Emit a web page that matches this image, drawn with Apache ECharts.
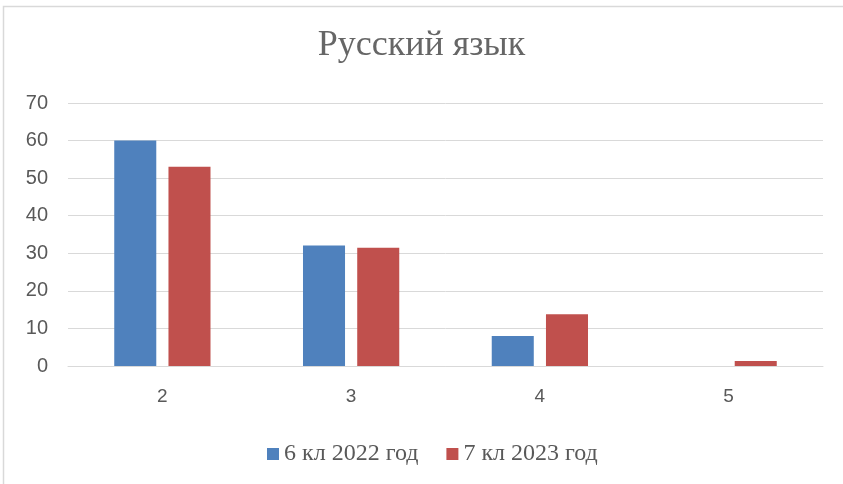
<!DOCTYPE html>
<html><head><meta charset="utf-8">
<script src="https://cdn.jsdelivr.net/npm/echarts@6/dist/echarts.min.js"></script>
<style>html,body{margin:0;padding:0;background:#fff}#c{width:843px;height:484px}</style>
</head><body><div id="c"></div>
<script>
const categories = ['2','3','4','5'];
const series2022 = [60, 32.1, 8.0, 0];
const series2023 = [53.0, 31.5, 13.8, 1.3];
const seriesNames = ['6 кл 2022 год', '7 кл 2023 год'];
const yTicks = [0, 10, 20, 30, 40, 50, 60, 70];

const chart = echarts.init(document.getElementById('c'));
chart.setOption({
  backgroundColor: '#fff',
  animation: false,
  graphic: [{type:'rect', shape:{x:3.5,y:6.5,width:900,height:600}, style:{fill:'none', stroke:'#d9d9d9', lineWidth:1.5}, silent:true}],
  title: {text: 'Русский язык', left: 'center', top: 23,
    textStyle: {fontFamily: 'Liberation Serif', fontSize: 36, fontWeight: 'normal', color: '#666666'}},
  legend: {top: 437, left: 262, itemWidth: 12, itemHeight: 12, itemGap: 28,
    icon: 'rect',
    textStyle: {fontFamily: 'Liberation Serif', fontSize: 24, color: '#595959'}},
  grid: {left: 68, right: 20, top: 103, bottom: 118},
  xAxis: {type: 'category', data: categories,
    axisLine: {lineStyle: {color: '#d9d9d9'}}, axisTick: {show: false},
    axisLabel: {fontFamily: 'Liberation Sans', fontSize: 19, color: '#595959', margin: 21}},
  yAxis: {type: 'value', min: yTicks[0], max: yTicks[yTicks.length-1], interval: 10,
    axisLine: {show: false}, axisTick: {show: false},
    splitLine: {lineStyle: {color: '#d9d9d9'}},
    axisLabel: {fontFamily: 'Liberation Sans', fontSize: 20, color: '#595959', margin: 20}},
  series: [
    {name: seriesNames[0], type: 'bar', data: series2022, barGap: '29%', barCategoryGap: '49%',
     itemStyle: {color: '#4F81BD'}},
    {name: seriesNames[1], type: 'bar', data: series2023,
     itemStyle: {color: '#C0504D'}}
  ]
});
</script></body></html>
